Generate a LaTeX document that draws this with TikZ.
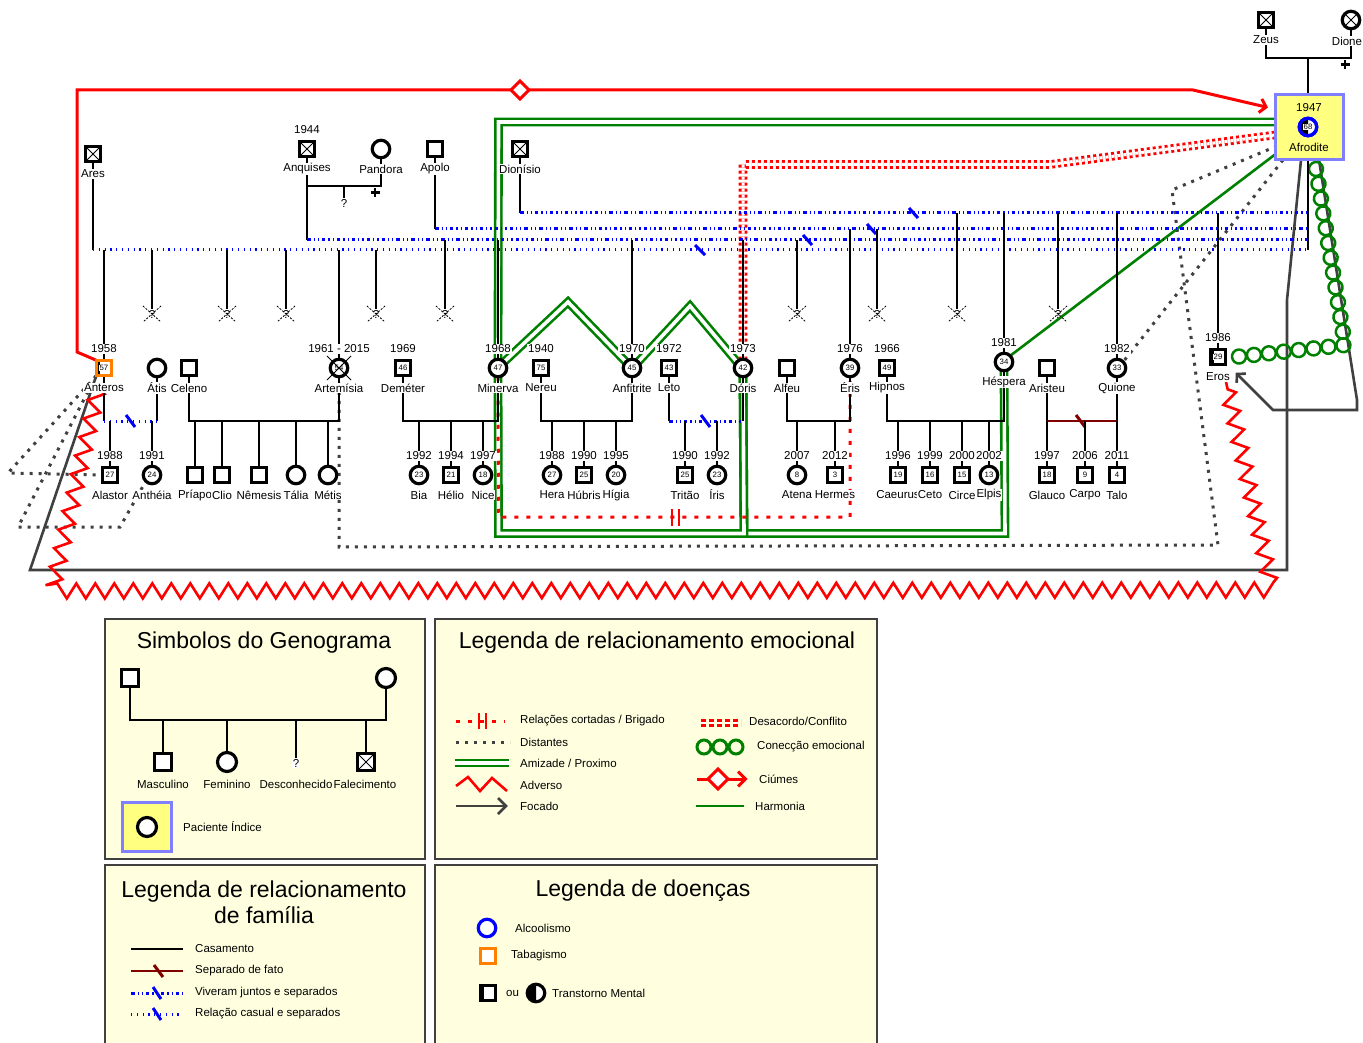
\documentclass[tikz,border=0pt]{standalone}
\usepackage{fontspec}
\setmainfont{Liberation Sans}
\usetikzlibrary{decorations.pathmorphing,decorations.markings,arrows.meta,calc}
\pgfdeclarelayer{bgw}
\pgfdeclarelayer{emo}
\pgfdeclarelayer{famlay}
\pgfsetlayers{bgw,emo,famlay,main}
\definecolor{gG}{HTML}{008000}
\definecolor{gR}{HTML}{FF0000}
\definecolor{gB}{HTML}{0000FF}
\definecolor{gK}{HTML}{404040}
\definecolor{gDR}{HTML}{800000}
\definecolor{gO}{HTML}{FF8000}
\definecolor{gY}{HTML}{FFFF80}
\definecolor{gP}{HTML}{8080FF}
\definecolor{gL}{HTML}{FFFFE0}
\tikzset{
 num/.style={font=\fontsize{7.8}{8}\selectfont},
 male/.style={draw, rectangle, line width=3.2pt, minimum size=15.5pt, inner sep=0pt, outer sep=0pt, fill=white, num},
 female/.style={draw, circle, line width=3.2pt, minimum size=17.5pt, inner sep=0pt, outer sep=0pt, fill=white, num},
 lbl/.style={fill=white, inner sep=0.8pt, font=\fontsize{11.5}{13}\selectfont},
 ltxt/.style={inner sep=0pt, anchor=west, font=\fontsize{11.5}{13}\selectfont},
 lct/.style={inner sep=0pt, font=\fontsize{11.5}{13}\selectfont},
 fam/.style={line width=2.9pt, black},
 casual/.style={line width=3pt, gB, dash pattern=on 1.2pt off 4.6pt},
 livedt/.style={line width=3pt, gB, dash pattern=on 3.5pt off 3pt on 1.2pt off 3pt on 1.2pt off 3pt},
 sepmark/.style={line width=3pt, gB},
 distant/.style={line width=3pt, gK, dash pattern=on 3pt off 6pt},
 closeg/.style={draw=gG, line width=2.6pt, double=white, double distance=3.6pt},
 conflictr/.style={draw=gR, line width=2.8pt, double=white, double distance=3pt, dash pattern=on 3pt off 3pt},
 cutr/.style={gR, line width=3pt, dash pattern=on 4pt off 8pt},
 hostile/.style={gR, line width=2.6pt, decorate, decoration={zigzag, segment length=19pt, amplitude=7.5pt}},
 focus/.style={gK, line width=2.6pt},
 harm/.style={gG, line width=2.6pt},
 jeal/.style={gR, line width=3pt},
 legbox/.style={draw=gK, line width=1.5pt, fill=gL},
 ttl/.style={font=\fontsize{23}{26}\selectfont, inner sep=0pt},
}
\newcommand\pM[4]{\node[male] (#1) at #2 {#3};\path (#1.center) ++(0,20) node[lbl] {#4};}
\newcommand\pF[4]{\node[female] (#1) at #2 {#3};\path (#1.center) ++(0,20) node[lbl] {#4};}
\newcommand\pY[2]{\path (#1.center) ++(0,-19) node[lbl] {#2};}
\newcommand\pQ[2]{\node[lbl,fill=none] (#1) at #2 {?};\draw[line width=0.8pt,dash pattern=on 2pt off 1.5pt] ($(#1)+(-9,-8)$) -- ($(#1)+(9,8)$) ($(#1)+(9,-8)$) -- ($(#1)+(-9,8)$);}
\newcommand\xsq[1]{\draw[line width=1pt] (#1.north west) -- (#1.south east) (#1.north east) -- (#1.south west);}
\newcommand\halfM[3]{\fill (#1.north west) rectangle ($(#1.south west)!0.5!(#1.south)$);\draw[#3, line width=3.2pt] (#1.north west) rectangle (#1.south east);\node[num, fill=white, inner sep=0.4pt] at (#1) {#2};}
\newcommand\marr[2]{\draw[fam] (#1.south) -- (#1.south |- R) -- (#2.south |- R) -- (#2.south);}
\begin{document}
\begin{tikzpicture}[x=1pt,y=-1pt]
\useasboundingbox (0,0) rectangle (1363,1043);
\begin{pgfonlayer}{bgw}
\fill[white] (0,0) rectangle (1363,1043);
\end{pgfonlayer}
\coordinate (Lares) at (1308,250);
\coordinate (Lanq) at (1308,240);
\coordinate (Lapo) at (1308,229);
\coordinate (Ldio) at (1308,213);
\coordinate (R) at (0,421);

% ---------------- generation 0/1
\pM{zeus}{(1266,20)}{}{Zeus}\xsq{zeus}
\node[female] (dione) at (1351,20) {};
\node[lbl, anchor=east] at (1363,41) {Dione};
\draw[line width=1pt] ($(dione)+(-6,-6)$) -- ($(dione)+(6,6)$) ($(dione)+(6,-6)$) -- ($(dione)+(-6,6)$);
\pM{ares}{(93,154)}{}{Ares}\xsq{ares}
\pM{anquises}{(307,149)}{}{Anquises}\xsq{anquises}\pY{anquises}{1944}
\pF{pandora}{(381,149)}{}{Pandora}
\pM{apolo}{(435,149)}{}{Apolo}
\pM{dionisio}{(520,149)}{}{Dionísio}\xsq{dionisio}
\node[lbl] (qap) at (344,203) {?};

\node[draw=gP, fill=gY, line width=3pt, minimum width=68pt, minimum height=65pt, inner sep=0pt, outer sep=0pt] (afrobox) at (1309,127.5) {};
\node[lbl, fill=none] at (1309,108) {1947};
\node[lbl, fill=none] at (1309,147) {Afrodite};
\node[female, draw=gB] (afrodite) at (1308,127) {};
\begin{scope}\clip ($(afrodite)+(-12,-12)$) rectangle ($(afrodite)+(0,12)$); \fill (afrodite) circle[radius=8.8pt];\end{scope}
\draw[gB, line width=3.2pt] (afrodite) circle[radius=8.75pt];
\node[num, fill=white, inner sep=0.3pt] at (afrodite) {68};

% ---------------- generation 2
\node[male, draw=gO] (anteros) at (104,368) {};\halfM{anteros}{57}{gO}
\path (anteros.center) ++(0,20) node[lbl] {Anteros};\pY{anteros}{1958}
\pF{atis}{(157,368)}{}{Átis}
\pM{celeno}{(189,368)}{}{Celeno}
\pF{artemisia}{(339,368)}{54}{Artemísia}\pY{artemisia}{1961 - 2015}
\draw[line width=0.9pt] ($(artemisia)+(-12,-12)$) -- ($(artemisia)+(12,12)$) ($(artemisia)+(12,-12)$) -- ($(artemisia)+(-12,12)$);
\pM{demeter}{(403,368)}{46}{Deméter}\pY{demeter}{1969}
\pF{minerva}{(498,368)}{47}{Minerva}\pY{minerva}{1968}
\pM{nereu}{(541,368)}{75}{Nereu}\pY{nereu}{1940}
\pF{anfitrite}{(632,368)}{45}{Anfitrite}\pY{anfitrite}{1970}
\pM{leto}{(669,368)}{43}{Leto}\pY{leto}{1972}
\pF{doris}{(743,368)}{42}{Dóris}\pY{doris}{1973}
\pM{alfeu}{(787,368)}{}{Alfeu}
\pF{eris}{(850,368)}{39}{Éris}\pY{eris}{1976}
\pM{hipnos}{(887,368)}{49}{Hipnos}\pY{hipnos}{1966}
\pF{hespera}{(1004,362)}{34}{Héspera}\pY{hespera}{1981}
\pM{aristeu}{(1047,368)}{}{Aristeu}
\pF{quione}{(1117,368)}{33}{Quione}\pY{quione}{1982}
\node[male] (eros) at (1218,357) {};\halfM{eros}{29}{black}
\path (eros.center) ++(0,20) node[lbl] {Eros};\pY{eros}{1986}

\pQ{q1}{(152,314)}\pQ{q2}{(227,314)}\pQ{q3}{(286,314)}\pQ{q4}{(376,314)}
\pQ{q5}{(445,314)}\pQ{q6}{(797,314)}\pQ{q7}{(877,314)}\pQ{q8}{(957,314)}\pQ{q9}{(1058,314)}

% ---------------- generation 3
\pM{alastor}{(110,475)}{27}{Alastor}\pY{alastor}{1988}
\pF{antheia}{(152,475)}{24}{Anthéia}\pY{antheia}{1991}
\pM{priapo}{(195,475)}{}{Príapo}
\pM{clio}{(222,475)}{}{Clio}
\pM{nemesis}{(259,475)}{}{Nêmesis}
\pF{talia}{(296,475)}{}{Tália}
\pF{metis}{(328,475)}{}{Métis}
\pF{bia}{(419,475)}{23}{Bia}\pY{bia}{1992}
\pM{helio}{(451,475)}{21}{Hélio}\pY{helio}{1994}
\pF{nice}{(483,475)}{18}{Nice}\pY{nice}{1997}
\pF{hera}{(552,475)}{27}{Hera}\pY{hera}{1988}
\pM{hubris}{(584,475)}{25}{Húbris}\pY{hubris}{1990}
\pF{higia}{(616,475)}{20}{Hígia}\pY{higia}{1995}
\pM{tritao}{(685,475)}{25}{Tritão}\pY{tritao}{1990}
\pF{iris}{(717,475)}{23}{Íris}\pY{iris}{1992}
\pF{atena}{(797,475)}{8}{Atena}\pY{atena}{2007}
\pM{hermes}{(835,475)}{3}{Hermes}\pY{hermes}{2012}
\pM{caeurus}{(898,475)}{19}{Caeurus}\pY{caeurus}{1996}
\pM{ceto}{(930,475)}{16}{Ceto}\pY{ceto}{1999}
\pM{circe}{(962,475)}{15}{Circe}\pY{circe}{2000}
\pF{elpis}{(989,475)}{13}{Elpis}\pY{elpis}{2002}
\pM{glauco}{(1047,475)}{18}{Glauco}\pY{glauco}{1997}
\pM{carpo}{(1085,475)}{9}{Carpo}\pY{carpo}{2006}
\pM{talo}{(1117,475)}{4}{Talo}\pY{talo}{2011}

% ---------------- family lines
\begin{pgfonlayer}{famlay}
\coordinate (zd) at (1308,58);
\draw[fam] (zeus.south) -- (zeus.south |- zd) -- (dione.south |- zd) -- (dione.south);
\draw[fam] (zd) -- (zd |- afrobox.north);
\draw[line width=2.5pt] (1345,60) -- (1345,69) (1340.5,64.5) -- (1349.5,64.5);
\draw[fam] (zd |- afrobox.south) -- (zd |- Lares);
\draw[fam] (ares.south) -- (ares.south |- Lares);
\draw[casual] (ares.south |- Lares) -- (Lares);
\draw[fam] (anquises.south) -- (anquises.south |- Lanq);
\draw[livedt] (anquises.south |- Lanq) -- (Lanq);
\draw[fam] (apolo.south) -- (apolo.south |- Lapo);
\draw[livedt] (apolo.south |- Lapo) -- (Lapo);
\draw[fam] (dionisio.south) -- (dionisio.south |- Ldio);
\draw[livedt] (dionisio.south |- Ldio) -- (Ldio);
\draw[sepmark] (695,245) -- (705,255);
\draw[sepmark] (803,235) -- (812,245);
\draw[sepmark] (867,224) -- (876,234);
\draw[sepmark] (909,208) -- (918,218);
\foreach \n in {anteros,artemisia,q1,q2,q3,q4} \draw[fam] (\n.north) -- (\n.north |- Lares);
\foreach \n in {q5,minerva,anfitrite,doris,q6} \draw[fam] (\n.north) -- (\n.north |- Lanq);
\foreach \n in {eris,q7} \draw[fam] (\n.north) -- (\n.north |- Lapo);
\foreach \n in {q8,hespera,q9,quione,eros} \draw[fam] (\n.north) -- (\n.north |- Ldio);
\coordinate (ap) at (344,186);
\draw[fam] (anquises.south) -- (anquises.south |- ap) -- (pandora.south |- ap) -- (pandora.south);
\draw[fam] (ap) -- (qap.north);
\draw[line width=2.5pt] (375,188) -- (375,197) (370.5,192.5) -- (379.5,192.5);
% couples
\draw[fam] (anteros.south) -- (anteros.south |- R);
\draw[fam] (atis.south) -- (atis.south |- R);
\draw[casual] (anteros.south |- R) -- (atis.south |- R);
\draw[sepmark] (126,415) -- (135,427);
\marr{celeno}{artemisia}\marr{demeter}{minerva}\marr{nereu}{anfitrite}\marr{alfeu}{eris}\marr{hipnos}{hespera}
\draw[fam] (leto.south) -- (leto.south |- R);
\draw[fam] (doris.south) -- (doris.south |- R);
\draw[livedt] (leto.south |- R) -- (doris.south |- R);
\draw[sepmark] (701,415) -- (710,427);
\draw[fam] (aristeu.south) -- (aristeu.south |- R);
\draw[fam] (quione.south) -- (quione.south |- R);
\draw[gDR, line width=2.9pt] (aristeu.south |- R) -- (quione.south |- R);
\draw[gDR, line width=3pt] (1076,415) -- (1085,427);
\foreach \n in {alastor,antheia,priapo,clio,nemesis,talia,metis,bia,helio,nice,hera,hubris,higia,tritao,iris,atena,hermes,caeurus,ceto,circe,elpis,glauco,carpo,talo} \draw[fam] (\n.north) -- (\n.north |- R);
\end{pgfonlayer}

% ---------------- emotional lines
\begin{pgfonlayer}{emo}
\draw[distant] ($(afrobox.west)+(2,18.5)$) -- (1172,190) -- (1218,545) -- (339,547) -- (artemisia.south);
\draw[distant] ($(afrobox.south west)+(8,0)$) -- (quione.north east);
\draw[distant] (anteros.south west) -- (8,473) -- (alastor.west);
\draw[distant] (anteros.south west) -- (18,527) -- (120,527) -- (antheia.south west);
\draw[focus] ($(afrobox.south)+(-8,0)$) -- (1287,300) -- (1287,570) -- (30,570) -- (anteros.south west);
\draw[focus, -{Straight Barb[length=6pt,width=13pt]}] ($(afrobox.south)+(10,0)$) -- (1357,400) -- (1357,410) -- (1273,410) -- ($(eros.south east)+(10,8)$);
\draw[hostile] ($(anteros.south west)+(2,12)$) -- (52,591) -- (1272,590) -- ($(eros.south east)+(0,16)$);
\path[postaction={decorate}, decoration={markings, mark=between positions 0 and 1 step 15pt with {\draw[gG, line width=2.5pt] (0,0) circle[radius=7pt];}}] ($(afrobox.south)+(7,9)$) -- (1345,345) -- ($(eros.east)+(9,0)$);
\draw[harm] ($(afrobox.west)+(0,27)$) -- (hespera.north east);
\draw[closeg] ($(afrobox.west)+(0,-5.5)$) -- (498.5,122) -- (minerva.north);
\draw[closeg] (minerva.north east) -- (568,302) -- (anfitrite.north west);
\draw[closeg] (anfitrite.north east) -- (690,306) -- (doris.north west);
\draw[closeg] (doris.south) -- (744,533.5) -- (1005,533.5) -- (hespera.south);
\draw[closeg] (minerva.south) -- (498.5,533.5) -- (744,533.5) -- (doris.south);
\draw[conflictr] ($(afrobox.west)+(0,7.5)$) -- (1050,164.5) -- (743,164.5) -- (doris.north);
\draw[cutr] (minerva.south) -- (498.5,517) -- (850,517) -- (eris.south);
\draw[gR, line width=2.5pt] (672,509) -- (672,526) (679,509) -- (679,526);
\draw[jeal, -{Straight Barb[length=6pt,width=14pt]}] (anteros.north west) -- (77,352) -- (77,90) -- (1193,90) -- ($(afrobox.west)+(-7,-20)$);
\draw[jeal, fill=white] (511,90) -- (520,81) -- (529,90) -- (520,99) -- cycle;
\end{pgfonlayer}

% ---------------- legend 1
\draw[legbox] (105,619) rectangle (425,859);
\node[ttl] at (264,643) {Simbolos do Genograma};
\node[male, minimum size=17pt] (lm1) at (130,678) {};
\node[female, minimum size=19pt] (lf1) at (386,678) {};
\coordinate (lg) at (0,720);
\draw[fam] (lm1.south) -- (lm1.south |- lg) -- (lf1.south |- lg) -- (lf1.south);
\node[male, minimum size=17pt] (lc1) at (163,762) {};
\node[female, minimum size=19pt] (lc2) at (227,762) {};
\node[lbl] (lc3) at (296,763) {?};
\node[male, minimum size=17pt] (lc4) at (366,762) {};\xsq{lc4}
\foreach \n in {lc1,lc2,lc3,lc4} \draw[fam] (\n.north) -- (\n.north |- lg);
\node[lct] at (163,784) {Masculino};
\node[lct] at (227,784) {Feminino};
\node[lct] at (296,784) {Desconhecido};
\node[lct] at (365,784) {Falecimento};
\node[draw=gP, fill=gY, line width=3pt, minimum size=49pt, outer sep=0pt] (pbox) at (147,827) {};
\node[female, minimum size=19pt] at (147,827) {};
\node[ltxt] at (183,827) {Paciente Índice};

% ---------------- legend 2
\draw[legbox] (435,619) rectangle (877,859);
\node[ttl] at (657,643) {Legenda de relacionamento emocional};
\draw[cutr] (456,721) -- (505,721);
\draw[gR, line width=2.5pt] (479,713) -- (479,729) (486,713) -- (486,729);
\draw[distant] (456,742) -- (510,742);
\draw[closeg] (455,763) -- (509,763);
\draw[gR, line width=2.6pt] (456,786) -- (468,777) -- (480,791) -- (492,778) -- (507,791);
\draw[focus] (456,806) -- (505,806);
\draw[focus] (498,798) -- (506,806) -- (498,814);
\node[ltxt] at (520,721) {Relações cortadas / Brigado};
\node[ltxt] at (520,742) {Distantes};
\node[ltxt] at (520,763) {Amizade / Proximo};
\node[ltxt] at (520,785) {Adverso};
\node[ltxt] at (520,806) {Focado};
\draw[conflictr, line width=2.8pt, double distance=1.8pt, dash pattern=on 5pt off 3pt] (701,723) -- (741,723);
\foreach \cx in {704,720,736} \draw[gG, line width=3pt] (\cx,747) circle[radius=7pt];
\draw[jeal] (697,779) -- (745,779);
\draw[jeal, fill=white] (708,779) -- (718,769) -- (728,779) -- (718,789) -- cycle;
\draw[jeal] (738,771.5) -- (745.5,779) -- (738,786.5);
\draw[harm] (696,806) -- (744,806);
\node[ltxt] at (749,721) {Desacordo/Conflito};
\node[ltxt] at (757,747) {Conecção emocional};
\node[ltxt] at (759,779) {Ciúmes};
\node[ltxt] at (755,806) {Harmonia};

% ---------------- legend 3
\draw[legbox] (105,865) rectangle (425,1050);
\node[ttl, align=center] at (264,902) {Legenda de relacionamento\\de família};
\draw[fam] (131,949) -- (183,949);
\draw[gDR, line width=2.9pt] (131,971) -- (183,971);
\draw[gDR, line width=3pt] (154,965) -- (163,977);
\draw[livedt] (131,993) -- (183,993);
\draw[sepmark] (153,987) -- (161,999);
\draw[casual] (131,1014) -- (183,1014);
\draw[sepmark] (153,1008) -- (161,1020);
\node[ltxt] at (195,949) {Casamento};
\node[ltxt] at (195,971) {Separado de fato};
\node[ltxt] at (195,993) {Viveram juntos e separados};
\node[ltxt] at (195,1014) {Relação casual e separados};

% ---------------- legend 4
\draw[legbox] (435,865) rectangle (877,1050);
\node[ttl] at (643,891) {Legenda de doenças};
\node[female, draw=gB, fill=white] at (487,928) {};
\node[ltxt] at (515,928) {Alcoolismo};
\node[male, draw=gO] at (488,956) {};
\node[ltxt] at (511,956) {Tabagismo};
\node[male] (lhs) at (488,993) {};
\fill (lhs.north west) rectangle ($(lhs.south west)!0.5!(lhs.south)$);
\node[female] (lhc) at (536,993) {};
\begin{scope}\clip ($(lhc)+(-12,-12)$) rectangle ($(lhc)+(0,12)$); \fill (lhc) circle[radius=8.8pt];\end{scope}
\node[ltxt] at (506,993) {ou};
\node[ltxt] at (552,993) {Transtorno Mental};
\end{tikzpicture}
\end{document}
